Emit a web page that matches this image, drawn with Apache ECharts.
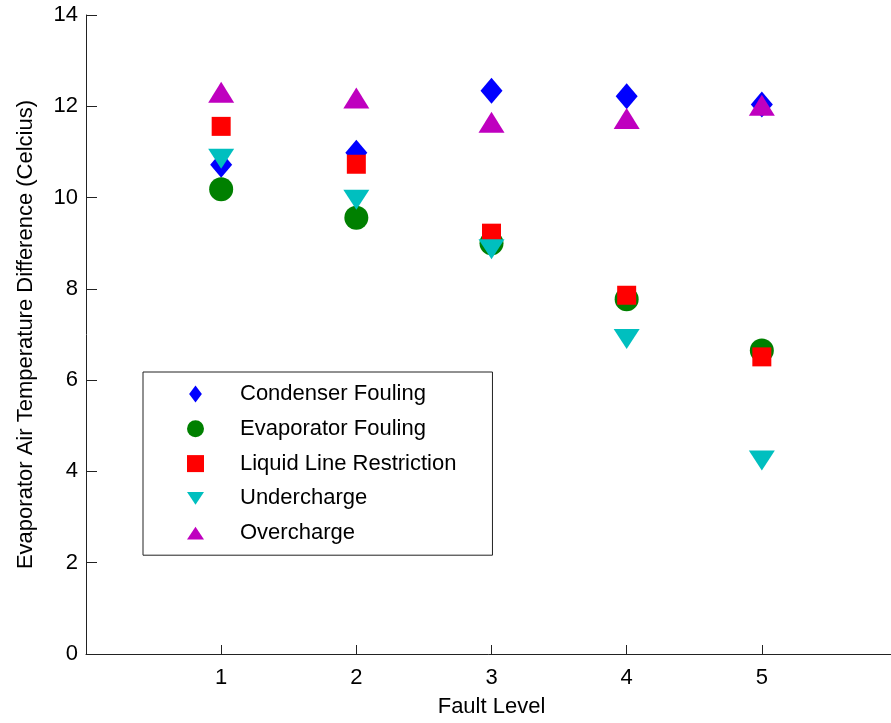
<!DOCTYPE html>
<html>
<head>
<meta charset="utf-8">
<script src="https://cdn.jsdelivr.net/npm/echarts@6/dist/echarts.min.js"></script>
<style>
html,body{margin:0;padding:0;background:#fff;}
#chart{width:891px;height:723px;}
</style>
</head>
<body>
<div id="chart"></div>
<script>
// Data
var faultLevels = [1, 2, 3, 4, 5];
var condenserFouling = [10.72, 10.98, 12.34, 12.22, 12.04];
var evaporatorFouling = [10.18, 9.56, 9.0, 7.77, 6.65];
var liquidLineRestriction = [11.56, 10.73, 9.22, 7.86, 6.51];
var undercharge = [10.85, 9.95, 8.87, 6.90, 4.24];
var overcharge = [12.31, 12.18, 11.65, 11.73, 12.02];
var seriesNames = ['Condenser Fouling', 'Evaporator Fouling', 'Liquid Line Restriction', 'Undercharge', 'Overcharge'];
var yTicks = [0, 2, 4, 6, 8, 10, 12, 14];
var xTicks = [1, 2, 3, 4, 5];

function pairs(vals) {
  return faultLevels.map(function (x, i) { return [x, vals[i]]; });
}

var FONT = '"Liberation Sans", Arial, sans-serif';
var AXIS = '#222';

var chart = echarts.init(document.getElementById('chart'), null, { renderer: 'canvas' });
chart.setOption({
  animation: false,
  backgroundColor: '#fff',
  textStyle: { fontFamily: FONT },
  grid: { left: 86, top: 15, right: -6, bottom: 69, containLabel: false, outerBoundsMode: 'none' },
  xAxis: {
    type: 'value', min: 0, max: 6, interval: 1,
    name: 'Fault Level', nameLocation: 'middle', nameGap: 42,
    nameTextStyle: { fontSize: 22, color: '#000', fontFamily: FONT },
    axisLine: { show: true, onZero: false, lineStyle: { color: AXIS, width: 1 } },
    axisTick: { show: true, inside: true, length: 9, customValues: xTicks, lineStyle: { color: AXIS } },
    axisLabel: { fontSize: 22, color: '#000', margin: 13, customValues: xTicks, fontFamily: FONT },
    splitLine: { show: false }
  },
  yAxis: {
    type: 'value', min: 0, max: 14, interval: 2,
    name: 'Evaporator Air Temperature Difference (Celcius)', nameLocation: 'middle', nameGap: 49,
    nameTextStyle: { fontSize: 22, color: '#000', fontFamily: FONT },
    axisLine: { show: true, onZero: false, lineStyle: { color: AXIS, width: 1 } },
    axisTick: { show: true, inside: true, length: 11, customValues: yTicks, lineStyle: { color: AXIS } },
    axisLabel: { fontSize: 22, color: '#000', margin: 8, customValues: yTicks, fontFamily: FONT },
    splitLine: { show: false }
  },
  legend: {
    orient: 'vertical',
    left: 143, top: 372,
    padding: [11, 36, 11, 44],
    itemWidth: 17, itemHeight: 17, itemGap: 12.8,
    borderColor: AXIS, borderWidth: 1, backgroundColor: '#fff',
    selectedMode: false,
    data: [
      { name: seriesNames[0], icon: 'path://M5,0L9.5,6L5,12L0.5,6Z' },
      { name: seriesNames[1], icon: 'circle' },
      { name: seriesNames[2], icon: 'path://M0,0L10,0L10,10L0,10Z' },
      { name: seriesNames[3], icon: 'path://M0,0L10,0L5,7.5Z' },
      { name: seriesNames[4], icon: 'path://M5,0L10,7.5L0,7.5Z' }
    ],
    formatter: function (name) { return '{t|' + name + '}'; },
    textStyle: {
      rich: { t: { padding: [0, 0, 0, 31], fontSize: 22, lineHeight: 22, color: '#000', fontFamily: FONT } }
    }
  },
  series: [
    { name: seriesNames[0], type: 'scatter', symbol: 'diamond', symbolSize: [22, 26],
      itemStyle: { color: '#0000FF', opacity: 1 }, data: pairs(condenserFouling) },
    { name: seriesNames[1], type: 'scatter', symbol: 'circle', symbolSize: 24,
      itemStyle: { color: '#008000', opacity: 1 }, data: pairs(evaporatorFouling) },
    { name: seriesNames[2], type: 'scatter', symbol: 'rect', symbolSize: 19,
      itemStyle: { color: '#FF0000', opacity: 1 }, data: pairs(liquidLineRestriction) },
    { name: seriesNames[3], type: 'scatter', symbol: 'triangle', symbolRotate: 180, symbolSize: [26, 20],
      itemStyle: { color: '#00BFBF', opacity: 1 }, data: pairs(undercharge) },
    { name: seriesNames[4], type: 'scatter', symbol: 'triangle', symbolSize: [26, 21],
      itemStyle: { color: '#BF00BF', opacity: 1 }, data: pairs(overcharge) }
  ]
});
</script>
</body>
</html>
